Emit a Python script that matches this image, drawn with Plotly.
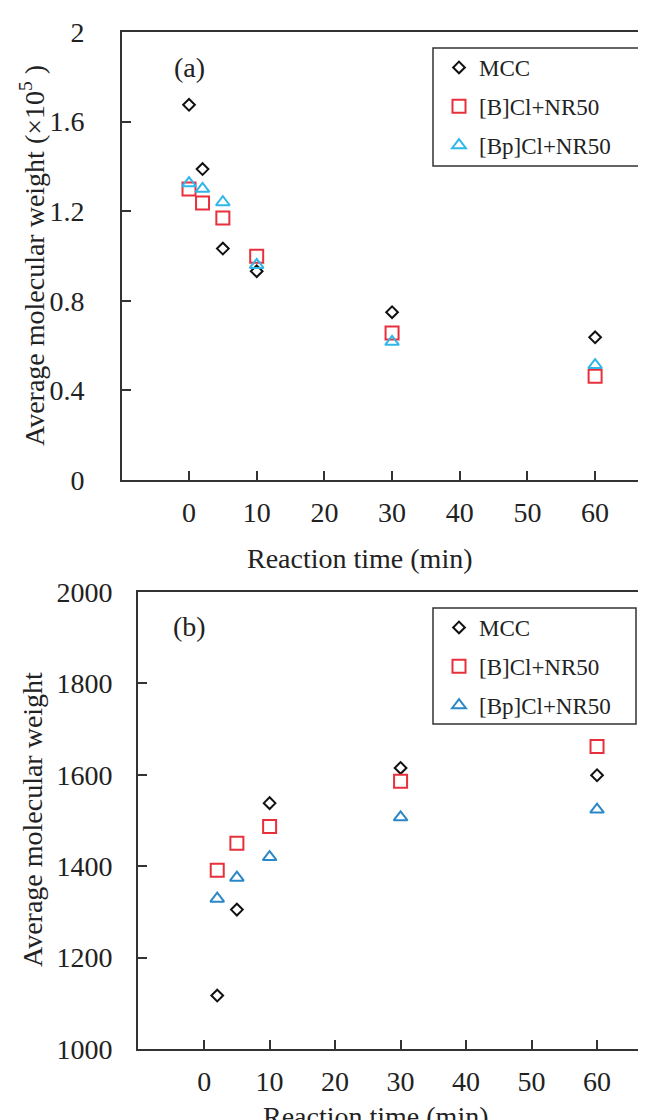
import plotly.graph_objects as go

# ---------------- data ----------------
series_names = ["MCC", "[B]Cl+NR50", "[Bp]Cl+NR50"]

time_a = [0, 2, 5, 10, 30, 60]
mcc_a = [1.675, 1.388, 1.033, 0.932, 0.749, 0.637]
b_a = [1.299, 1.237, 1.170, 0.999, 0.656, 0.463]
bp_a = [1.325, 1.300, 1.240, 0.960, 0.617, 0.513]

time_b = [2, 5, 10, 30, 60]
mcc_b = [1117, 1305, 1538, 1615, 1599]
b_b = [1391, 1450, 1487, 1586, 1662]
bp_b = [1329, 1375, 1420, 1507, 1524]

xticks = [0, 10, 20, 30, 40, 50, 60]
yticks_a = [0, 0.4, 0.8, 1.2, 1.6, 2.0]
yticks_b = [1000, 1200, 1400, 1600, 1800, 2000]

# ---------------- style ----------------
W, H = 646, 1120
FONT = "Liberation Serif, Times New Roman, serif"
TXT = "#222222"
AX = "#333333"
BLACK = "#111111"
RED = "#e8303c"
CYAN = "#2fb6ea"
BLUE = "#2a88c8"

symbols = ["diamond-open", "square-open", "triangle-up-open"]
sizes = [9, 13, 12]
colors_a = [BLACK, RED, CYAN]
colors_b = [BLACK, RED, BLUE]

fig = go.Figure()

for i, (name, ys) in enumerate(zip(series_names, [mcc_a, b_a, bp_a])):
    fig.add_trace(go.Scatter(
        x=time_a, y=ys, mode="markers", name=name,
        marker=dict(symbol=symbols[i], size=sizes[i], color=colors_a[i],
                    line=dict(width=2, color=colors_a[i])),
        xaxis="x", yaxis="y", legend="legend", legendgroup=name + "_a",
    ))

for i, (name, ys) in enumerate(zip(series_names, [mcc_b, b_b, bp_b])):
    fig.add_trace(go.Scatter(
        x=time_b, y=ys, mode="markers", name=name,
        marker=dict(symbol=symbols[i], size=sizes[i], color=colors_b[i],
                    line=dict(width=2, color=colors_b[i])),
        xaxis="x2", yaxis="y2", legend="legend2", legendgroup=name + "_b",
    ))


def px_x(p):
    return p / W


def px_y(p):
    return 1 - p / H


common_x = dict(
    tickvals=xticks, ticks="inside", ticklen=9, tickwidth=1.5, tickcolor=AX,
    showline=True, linecolor=AX, linewidth=2, mirror=True,
    showgrid=False, zeroline=False, automargin=False,
    tickfont=dict(family=FONT, size=28, color=TXT), ticklabelstandoff=6,
)
common_y = dict(
    ticks="inside", ticklen=9, tickwidth=1.5, tickcolor=AX,
    showline=True, linecolor=AX, linewidth=2, mirror=False,
    showgrid=False, zeroline=False, automargin=False,
    tickfont=dict(family=FONT, size=28, color=TXT),
)

legend_common = dict(
    font=dict(family=FONT, size=23, color=TXT),
    bgcolor="rgba(0,0,0,0)", borderwidth=0,
    xanchor="left", yanchor="top", tracegroupgap=6,
    itemwidth=30,
)

fig.update_layout(
    width=W, height=H,
    margin=dict(l=0, r=0, t=0, b=0),
    paper_bgcolor="white", plot_bgcolor="white",
    showlegend=True,
    xaxis=dict(domain=[px_x(114), 1], range=[-9.9, 68.7], anchor="y", **common_x),
    yaxis=dict(domain=[px_y(472), px_y(24)], range=[0, 2], anchor="x",
               tickvals=yticks_a, ticklabelstandoff=30, **common_y),
    xaxis2=dict(domain=[px_x(130), 1], range=[-10.1, 68.7], anchor="y2", **common_x),
    yaxis2=dict(domain=[px_y(1041), px_y(584)], range=[1000, 2000], anchor="x2",
                tickvals=yticks_b, ticklabelstandoff=18, **common_y),
    legend=dict(x=px_x(431), y=px_y(38), **legend_common),
    legend2=dict(x=px_x(431), y=px_y(598), **legend_common),
    shapes=[
        dict(type="rect", xref="paper", yref="paper",
             x0=px_x(425), x1=px_x(634), y0=px_y(158), y1=px_y(40),
             line=dict(color=AX, width=1.5)),
        dict(type="rect", xref="paper", yref="paper",
             x0=px_x(425), x1=px_x(628), y0=px_y(716), y1=px_y(600),
             line=dict(color=AX, width=1.5)),
    ],
)

ann_font = dict(family=FONT, size=28, color=TXT)
annotations = [
    dict(text="(a)", x=px_x(182), y=px_y(59)),
    dict(text="(b)", x=px_x(182), y=px_y(618)),
    dict(text="Reaction time (min)", x=px_x(352), y=px_y(550)),
    dict(text="Reaction time (min)", x=px_x(368), y=px_y(1108)),
    dict(text="Average molecular weight (×10<sup>5</sup> )", x=px_x(24), y=px_y(248), textangle=-90),
    dict(text="Average molecular weight", x=px_x(24), y=px_y(812), textangle=-90),
]
for a in annotations:
    fig.add_annotation(xref="paper", yref="paper", showarrow=False,
                       xanchor="center", yanchor="middle", font=ann_font, **a)

fig.write_html("out.html")
